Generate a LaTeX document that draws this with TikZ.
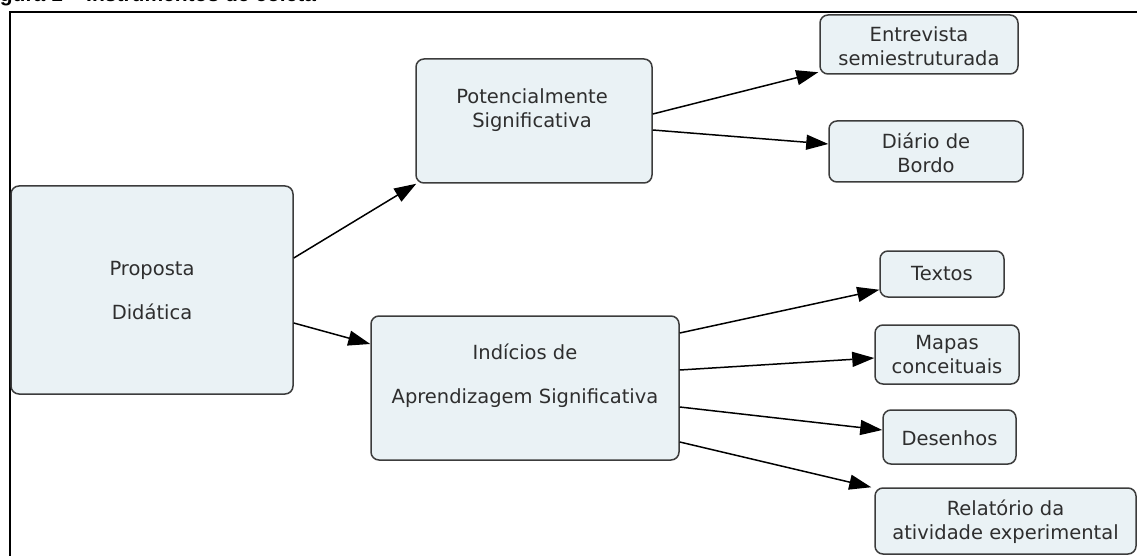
\documentclass[tikz,border=0pt]{standalone}
\usepackage{fontspec}
\setmainfont{DejaVu Sans}
\newfontfamily\capfont{Liberation Sans}
\usetikzlibrary{arrows.meta,calc}
\definecolor{boxfill}{HTML}{EAF2F5}
\definecolor{boxline}{HTML}{3C3C3C}
\definecolor{txt}{HTML}{2E2E2E}
\tikzset{
  cbox/.style={draw=boxline, fill=boxfill, line width=1.5pt, rounded corners=8pt, inner sep=0pt},
  lbl/.style={text=txt, align=center, inner sep=0pt, font=\fontsize{19.5}{24}\selectfont},
  lblwide/.style={text=txt, align=center, inner sep=0pt, font=\fontsize{19.5}{44}\selectfont},
  conn/.style={draw=black, line width=1.5pt, -{Triangle[length=22pt,width=15pt]}, shorten >=0pt}
}
\begin{document}
\begin{tikzpicture}[x=1pt,y=-1pt]
\useasboundingbox (0,0) rectangle (1137,556);
% caption (cut off at the top edge, as in the reference)
\begin{scope}
\clip (-30,0) rectangle (1137,11);
\node[anchor=base west, inner sep=0pt, font=\capfont\bfseries\fontsize{21}{24}\selectfont] (cap) at (-19,1.5) {Figura 1 – Instrumentos de coleta};
\end{scope}
% frame
\draw[line width=1.4pt] (10,556) -- (10,12) -- (1140,12);
% boxes
\node[cbox, minimum width=282pt, minimum height=208pt] (prop) at (152,290) {};
\node[cbox, minimum width=236pt, minimum height=124pt] (pot) at (534,121) {};
\node[cbox, minimum width=198pt, minimum height=59pt] (ent) at (919,44.5) {};
\node[cbox, minimum width=194pt, minimum height=61pt] (dia) at (926,151.5) {};
\node[cbox, minimum width=308pt, minimum height=144pt] (ind) at (525,388) {};
\node[cbox, minimum width=124pt, minimum height=46pt] (tex) at (942,274) {};
\node[cbox, minimum width=144pt, minimum height=59pt] (map) at (947,354.5) {};
\node[cbox, minimum width=133pt, minimum height=54pt] (des) at (949.5,437) {};
\node[cbox, minimum width=261pt, minimum height=66pt] (rel) at (1005.5,521) {};
% labels
\node[lblwide] (propL) at (152,291) {Proposta\\Didática};
\node[lbl] (potL) at (532,110) {Potencialmente\\Significativa};
\node[lbl] (entL) at (919,46) {Entrevista\\semiestruturada};
\node[lbl] (diaL) at (926,153) {Diário de\\Bordo};
\node[lblwide] (indL) at (525,376) {Indícios de\\Aprendizagem Significativa};
\node[lbl] (texL) at (942,274) {Textos};
\node[lbl] (mapL) at (947,355) {Mapas\\conceituais};
\node[lbl] (desL) at (949.5,438) {Desenhos};
\node[lbl] (relL) at (1005.5,522) {Relatório da\\atividade experimental};
% connectors
\draw[conn] ([yshift=32pt]prop.east) -- ([xshift=1pt]pot.south west);
\draw[conn] ([yshift=-33pt]prop.east) -- ([yshift=44pt]ind.west);
\draw[conn] ([yshift=7pt]pot.east) -- ([xshift=-1pt,yshift=2.5pt]ent.south west);
\draw[conn] ([yshift=-9pt]pot.east) -- ([yshift=7.5pt]dia.west);
\draw[conn] ([yshift=55pt]ind.east) -- ([yshift=8pt]tex.south west);
\draw[conn] ([yshift=18pt]ind.east) -- ([yshift=-3.5pt]map.west);
\draw[conn] ([yshift=-19pt]ind.east) -- ([yshift=7pt]des.west);
\draw[conn] ([yshift=-54pt]ind.east) -- ([xshift=-3pt]rel.north west);
\end{tikzpicture}
\end{document}
